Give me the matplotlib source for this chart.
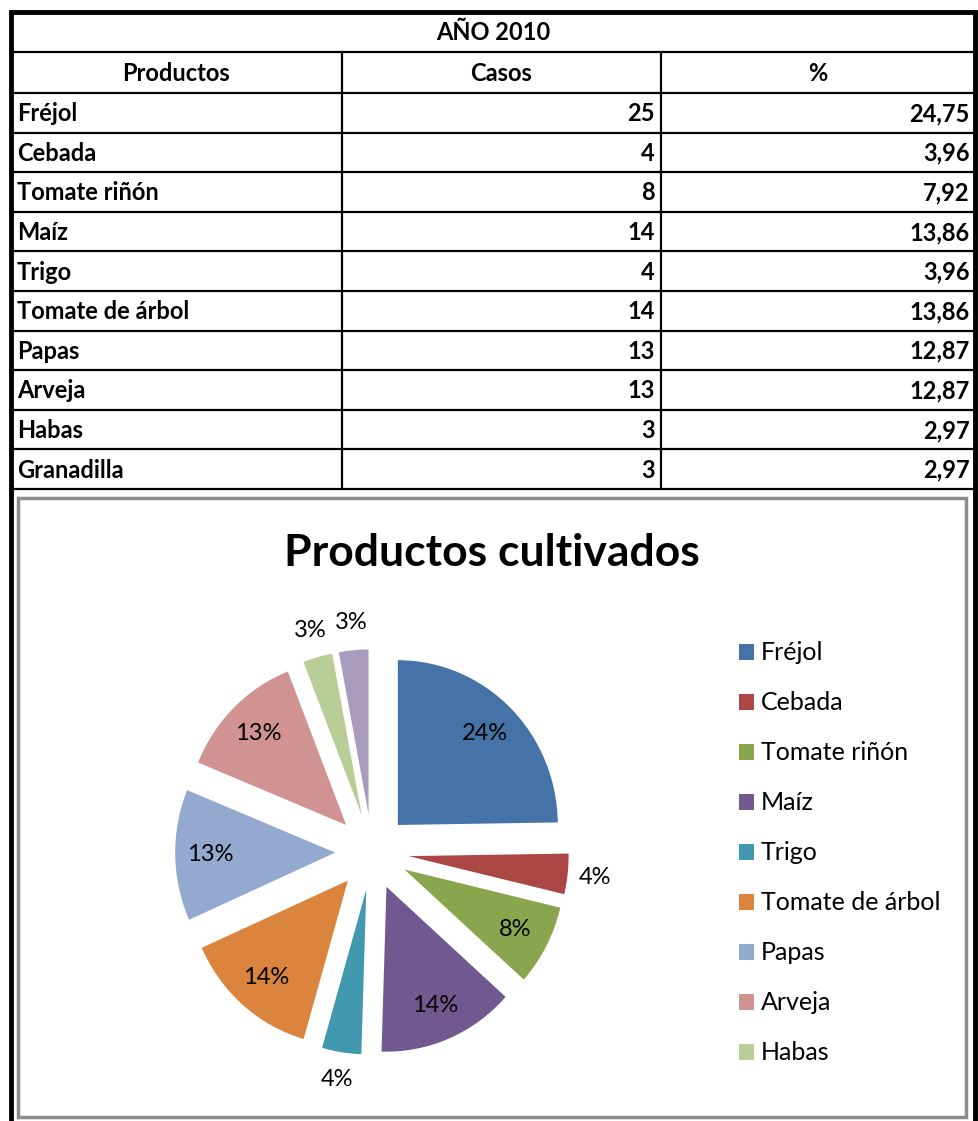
import numpy as np
import matplotlib
matplotlib.use("Agg")
import matplotlib.pyplot as plt
from matplotlib.patches import Rectangle

plt.rcParams['font.family'] = ['Lato', 'DejaVu Sans']

# data
year_title = "AÑO 2010"
headers = ["Productos", "Casos", "%"]
productos = ["Fréjol", "Cebada", "Tomate riñón", "Maíz", "Trigo",
             "Tomate de árbol", "Papas", "Arveja", "Habas", "Granadilla"]
casos = [25, 4, 8, 14, 4, 14, 13, 13, 3, 3]
porcentaje = [24.75, 3.96, 7.92, 13.86, 3.96, 13.86, 12.87, 12.87, 2.97, 2.97]
pie_labels = ["24%", "4%", "8%", "14%", "4%", "14%", "13%", "13%", "3%", "3%"]
colores = ["#4572A7", "#AA4643", "#89A54E", "#71588F", "#4198AF",
           "#DB843D", "#93A9CF", "#D19392", "#B9CD96", "#A99BBD"]
chart_title = "Productos cultivados"
n_legend = 9  # Granadilla is cut off in the original legend

W, H = 979, 1121
fig = plt.figure(figsize=(W / 100, H / 100), dpi=100)

# background axes in pixel coordinates for the table
bg = fig.add_axes([0, 0, 1, 1])
bg.set_xlim(0, W)
bg.set_ylim(H, 0)
bg.axis("off")

x_left, x_c1, x_c2, x_right = 11, 342, 661, 975
top = 12
row_h = 39.6
row_y = [top + 40, top + 81] + [top + 81 + row_h * (i + 1) for i in range(len(productos))]
ys = [top] + row_y

# horizontal lines
for y in ys[1:]:
    bg.plot([x_left, x_right], [y, y], color="black", lw=1.6, solid_capstyle="butt")
# vertical column lines (not in the merged title row)
for x in (x_c1, x_c2):
    bg.plot([x, x], [ys[1], ys[-1]], color="black", lw=1.6, solid_capstyle="butt")
# outer border
bg.plot([x_left, x_right], [top, top], color="black", lw=3.5, solid_capstyle="projecting")
bg.plot([x_left, x_left], [top, H], color="black", lw=3.5, solid_capstyle="butt")
bg.plot([x_right, x_right], [top, H], color="black", lw=3.5, solid_capstyle="butt")

fs = 17
bg.text((x_left + x_right) / 2, (ys[0] + ys[1]) / 2 + 1, year_title, ha="center", va="center",
        fontsize=fs, fontweight="bold")
centers = [(x_left + x_c1) / 2, (x_c1 + x_c2) / 2, (x_c2 + x_right) / 2]
for xc, h in zip(centers, headers):
    bg.text(xc, (ys[1] + ys[2]) / 2 + 1, h, ha="center", va="center", fontsize=fs, fontweight="bold")
for i, (p, c, v) in enumerate(zip(productos, casos, porcentaje)):
    yc = (ys[i + 2] + ys[i + 3]) / 2 + 1
    bg.text(x_left + 6, yc, p, ha="left", va="center", fontsize=fs, fontweight="bold")
    bg.text(x_c2 - 6, yc, str(c), ha="right", va="center", fontsize=fs, fontweight="bold")
    bg.text(x_right - 5, yc, f"{v:.2f}".replace(".", ","), ha="right", va="center",
            fontsize=fs, fontweight="bold")

# chart box
bg.add_patch(Rectangle((18, 498), 948, 619, fill=False, edgecolor="#8C8C8C", lw=2.5))
bg.text(492, 553, chart_title, ha="center", va="center", fontsize=32, fontweight="bold")

# pie (slightly taller than wide, like the original)
cx, cy, R = 372, 852, 160
stretch = 1.03
half = 1.5 * R
ax = fig.add_axes([(cx - half) / W, (H - cy - half) / H, 2 * half / W, 2 * half / H])
wedges, _ = ax.pie(casos, colors=colores, startangle=90, counterclock=False,
                   explode=[0.23] * len(casos), radius=1,
                   wedgeprops=dict(linewidth=0))
ax.set_aspect("auto")
ax.set_xlim(-1.5, 1.5)
ax.set_ylim(-1.5 / stretch, 1.5 / stretch)
ax.axis("off")
for w, lab in zip(wedges, pie_labels):
    ang = np.deg2rad((w.theta1 + w.theta2) / 2)
    small = (w.theta2 - w.theta1) < 20
    d = 1.17 if small else 0.78
    x0, y0 = w.center
    ax.text(x0 + d * np.cos(ang), y0 + d * np.sin(ang), lab, ha="center", va="center",
            fontsize=17)

# legend
handles = wedges[:n_legend]
leg = fig.legend(handles, productos[:n_legend], loc="upper left",
                 bbox_to_anchor=(716 / W, 1 - 619 / H), frameon=False,
                 fontsize=18, handlelength=0.6, handleheight=0.6,
                 labelspacing=1.08, handletextpad=0.3)

fig.savefig("out.png", dpi=100)
